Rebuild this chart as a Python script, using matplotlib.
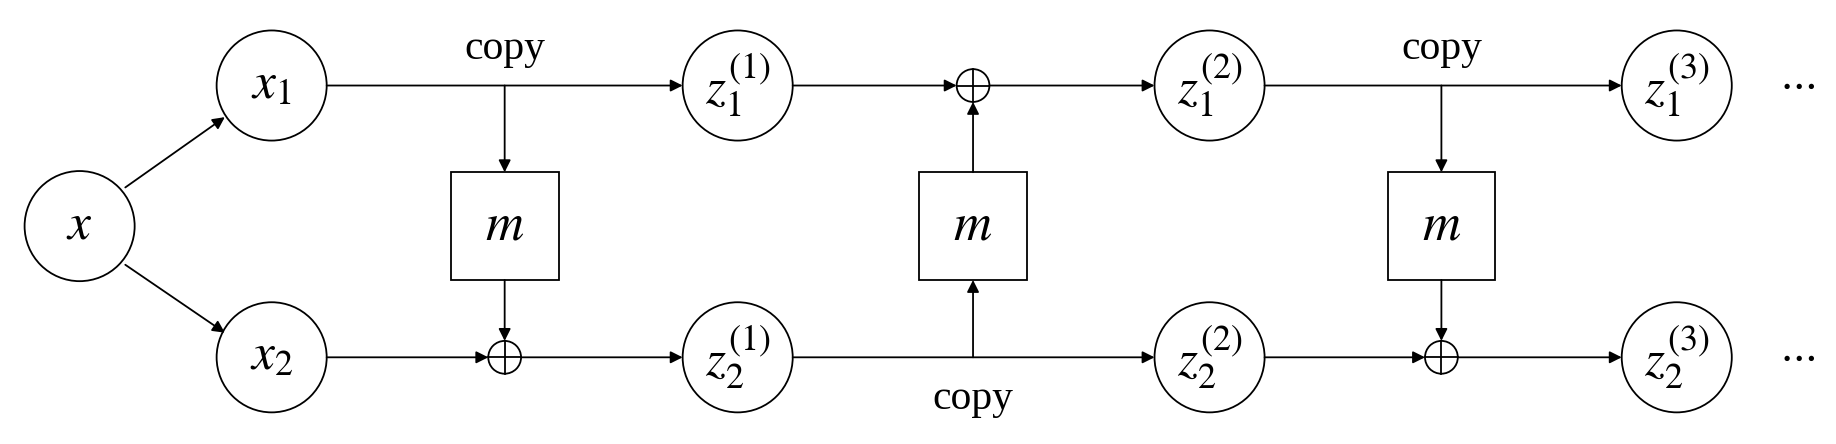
import matplotlib
matplotlib.use("Agg")
import matplotlib.pyplot as plt
from matplotlib.patches import Circle, Rectangle

plt.rcParams["mathtext.fontset"] = "stix"
plt.rcParams["font.family"] = ["Liberation Serif", "DejaVu Serif"]

# node layout (display units, y grows downward)
node_labels = ["$x$", "$x_1$", "$x_2$",
               "$z_1^{(1)}$", "$z_2^{(1)}$", "$z_1^{(2)}$", "$z_2^{(2)}$", "$z_1^{(3)}$", "$z_2^{(3)}$"]
node_x = [68, 232, 232, 630, 630, 1033, 1033, 1432, 1432]
node_y = [193, 73, 305, 73, 305, 73, 305, 73, 305]
box_x = [431, 831, 1231]
plus_pos = [(431, 305), (831, 73), (1231, 305)]
copy_pos = [(431, 42), (831, 340), (1231, 42)]

R = 47
BH = 46
PR = 14
TOP, BOT = 73, 305

fig = plt.figure(figsize=(18.36, 4.44), dpi=100)
ax = fig.add_axes([0, 0, 1, 1])
ax.set_xlim(0, 1568)
ax.set_ylim(379, 0)
ax.axis("off")

for lab, cx, cy in zip(node_labels, node_x, node_y):
    ax.add_patch(Circle((cx, cy), R, fill=False, lw=1.3, color="black"))
    ax.text(cx, cy, lab, ha="center", va="center", fontsize=37)

for bx in box_x:
    ax.add_patch(Rectangle((bx - BH, 193 - BH), 2 * BH, 2 * BH, fill=False, lw=1.3, color="black"))
    ax.text(bx, 193, "$m$", ha="center", va="center", fontsize=38)

for px, py in plus_pos:
    ax.add_patch(Circle((px, py), PR, fill=False, lw=1.3, color="black"))
    ax.plot([px - PR, px + PR], [py, py], color="black", lw=1.3)
    ax.plot([px, px], [py - PR, py + PR], color="black", lw=1.3)

for cx, cy in copy_pos:
    ax.text(cx, cy, "copy", ha="center", va="center", fontsize=30)

for y in (TOP, BOT):
    ax.text(1535, y, "$\\cdots$", ha="center", va="center", fontsize=30)


def arrow(x0, y0, x1, y1):
    ax.annotate("", xy=(x1, y1), xytext=(x0, y0),
                arrowprops=dict(arrowstyle="-|>", color="black", lw=1.3, mutation_scale=18,
                                shrinkA=0, shrinkB=0))


# split
arrow(107, 160, 192, 100)
arrow(107, 226, 192, 284)

# stage 1: copy top, add to bottom
arrow(279, TOP, 583, TOP)
arrow(431, TOP, 431, 193 - BH)
arrow(431, 193 + BH, 431, BOT - PR)
arrow(279, BOT, 431 - PR, BOT)
arrow(431 + PR, BOT, 583, BOT)

# stage 2: copy bottom, add to top
arrow(677, BOT, 986, BOT)
arrow(831, BOT, 831, 193 + BH)
arrow(831, 193 - BH, 831, TOP + PR)
arrow(677, TOP, 831 - PR, TOP)
arrow(831 + PR, TOP, 986, TOP)

# stage 3: copy top, add to bottom
arrow(1080, TOP, 1385, TOP)
arrow(1231, TOP, 1231, 193 - BH)
arrow(1231, 193 + BH, 1231, BOT - PR)
arrow(1080, BOT, 1231 - PR, BOT)
arrow(1231 + PR, BOT, 1385, BOT)

fig.savefig("out.png", dpi=100, facecolor="white")
